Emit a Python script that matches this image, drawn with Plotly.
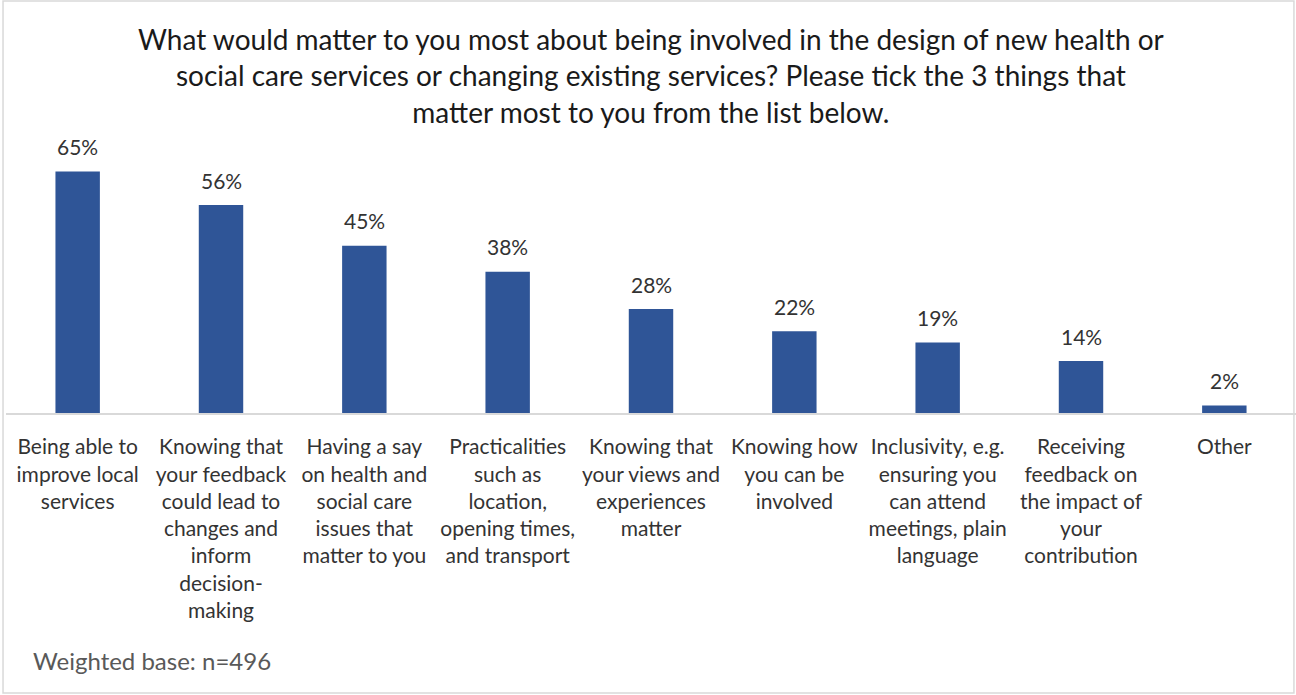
import plotly.graph_objects as go

# Survey responses: share of respondents ticking each option
categories = [
    "Being able to improve local services",
    "Knowing that your feedback could lead to changes and inform decision-making",
    "Having a say on health and social care issues that matter to you",
    "Practicalities such as location, opening times, and transport",
    "Knowing that your views and experiences matter",
    "Knowing how you can be involved",
    "Inclusivity, e.g. ensuring you can attend meetings, plain language",
    "Receiving feedback on the impact of your contribution",
    "Other",
]
tick_labels = [
    "Being able to<br>improve local<br>services",
    "Knowing that<br>your feedback<br>could lead to<br>changes and<br>inform<br>decision-<br>making",
    "Having a say<br>on health and<br>social care<br>issues that<br>matter to you",
    "Practicalities<br>such as<br>location,<br>opening times,<br>and transport",
    "Knowing that<br>your views and<br>experiences<br>matter",
    "Knowing how<br>you can be<br>involved",
    "Inclusivity, e.g.<br>ensuring you<br>can attend<br>meetings, plain<br>language",
    "Receiving<br>feedback on<br>the impact of<br>your<br>contribution",
    "Other",
]
percentages = [65, 56, 45, 38, 28, 22, 19, 14, 2]

title_text = ("What would matter to you most about being involved in the design of new health or<br>"
              "social care services or changing existing services? Please tick the 3 things that<br>"
              "matter most to you from the list below.")
base_note = "Weighted base: n=496"

FONT = "Lato, 'Open Sans', sans-serif"
TEXT = "#333333"

fig = go.Figure(go.Bar(
    x=categories,
    y=percentages,
    marker=dict(color="#2F5597", line=dict(width=0)),
    width=0.31,
))

# value labels sitting above each bar
value_labels = [
    dict(x=c, y=v, xref="x", yref="y", text=f"{v}%", showarrow=False,
         yanchor="middle", yshift=25,
         font=dict(family=FONT, size=21, color=TEXT))
    for c, v in zip(categories, percentages)
]

fig.update_layout(
    width=1296, height=695,
    margin=dict(l=6, r=0, t=153, b=282),
    paper_bgcolor="white", plot_bgcolor="white",
    showlegend=False,
    font=dict(family=FONT, color=TEXT),
    xaxis=dict(
        tickmode="array", tickvals=categories, ticktext=tick_labels,
        tickfont=dict(family=FONT, size=21, color=TEXT),
        tickangle=0, showgrid=False, showline=True, linecolor="#D9D9D9",
        linewidth=2, ticks="", ticklabelstandoff=14,
    ),
    yaxis=dict(range=[0, 70], visible=False, fixedrange=True),
    annotations=value_labels + [
        dict(text=title_text, xref="paper", yref="paper", x=0.5, xanchor="center",
             y=1, yanchor="middle", yshift=78, showarrow=False,
             font=dict(family=FONT, size=28, color="#1A1A1A")),
        dict(text=base_note, xref="paper", yref="paper", x=0, xanchor="left",
             xshift=25, y=0, yanchor="middle", yshift=-247, showarrow=False,
             font=dict(family=FONT, size=24, color="#595959")),
    ],
    shapes=[dict(type="rect", xref="paper", yref="paper",
                 x0=-0.0023, x1=0.9984, y0=-1.077, y1=1.585,
                 line=dict(color="#D9D9D9", width=1.5), layer="below")],
)

fig.write_html("out.html")
